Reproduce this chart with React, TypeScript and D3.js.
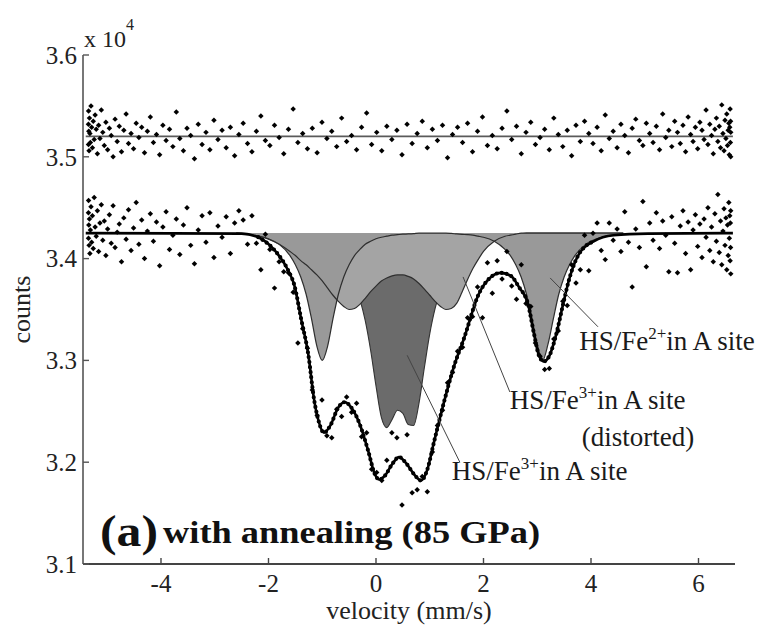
import React from 'react';
import * as d3 from 'd3';

// ---- data ----
const VELOCITY = [
  -5.350, -5.349, -5.347, -5.343, -5.338, -5.331, -5.323, -5.314, -5.302, -5.290,
  -5.276, -5.260, -5.243, -5.225, -5.205, -5.183, -5.160, -5.136, -5.110, -5.083,
  -5.055, -5.025, -4.993, -4.960, -4.926, -4.891, -4.854, -4.815, -4.776, -4.735,
  -4.692, -4.649, -4.604, -4.557, -4.510, -4.461, -4.411, -4.359, -4.307, -4.253,
  -4.198, -4.141, -4.084, -4.025, -3.965, -3.905, -3.842, -3.779, -3.715, -3.650,
  -3.583, -3.516, -3.447, -3.378, -3.307, -3.236, -3.163, -3.090, -3.015, -2.940,
  -2.864, -2.787, -2.709, -2.630, -2.551, -2.471, -2.390, -2.308, -2.225, -2.142,
  -2.058, -1.974, -1.888, -1.802, -1.716, -1.629, -1.541, -1.453, -1.364, -1.275,
  -1.185, -1.095, -1.005, -0.914, -0.823, -0.731, -0.639, -0.546, -0.454, -0.361,
  -0.268, -0.174, -0.081, 0.013, 0.107, 0.201, 0.295, 0.389, 0.484, 0.578,
  0.672, 0.766, 0.861, 0.955, 1.049, 1.143, 1.237, 1.331, 1.424, 1.518,
  1.611, 1.704, 1.796, 1.889, 1.981, 2.073, 2.164, 2.255, 2.345, 2.435,
  2.525, 2.614, 2.703, 2.791, 2.879, 2.966, 3.052, 3.138, 3.224, 3.308,
  3.392, 3.475, 3.558, 3.640, 3.721, 3.801, 3.880, 3.959, 4.037, 4.114,
  4.190, 4.265, 4.340, 4.413, 4.486, 4.557, 4.628, 4.697, 4.766, 4.833,
  4.900, 4.965, 5.029, 5.092, 5.155, 5.215, 5.275, 5.334, 5.391, 5.448,
  5.503, 5.557, 5.609, 5.661, 5.711, 5.760, 5.807, 5.854, 5.899, 5.942,
  5.985, 6.026, 6.065, 6.104, 6.141, 6.176, 6.210, 6.243, 6.275, 6.305,
  6.333, 6.360, 6.386, 6.410, 6.433, 6.455, 6.475, 6.493, 6.510, 6.526,
  6.540, 6.552, 6.564, 6.573, 6.581, 6.588, 6.593, 6.597, 6.599, 6.600,
];

// counts (x 10^4), upper spectrum
const COUNTS_TOP = [
  3.532, 3.512, 3.545, 3.525, 3.506, 3.538, 3.523, 3.514, 3.550, 3.529,
  3.509, 3.535, 3.517, 3.541, 3.527, 3.503, 3.531, 3.518, 3.546, 3.524,
  3.511, 3.534, 3.507, 3.528, 3.521, 3.500, 3.537, 3.515, 3.530, 3.505,
  3.526, 3.542, 3.513, 3.523, 3.508, 3.533, 3.519, 3.529, 3.504, 3.525,
  3.539, 3.514, 3.522, 3.502, 3.531, 3.516, 3.527, 3.510, 3.544, 3.518,
  3.506, 3.528, 3.521, 3.498, 3.532, 3.512, 3.524, 3.507, 3.536, 3.517,
  3.526, 3.509, 3.529, 3.501, 3.522, 3.533, 3.513, 3.505, 3.525, 3.540,
  3.516, 3.511, 3.531, 3.519, 3.503, 3.527, 3.547, 3.514, 3.523, 3.508,
  3.528, 3.504, 3.534, 3.518, 3.525, 3.510, 3.538, 3.515, 3.521, 3.507,
  3.529, 3.543, 3.512, 3.524, 3.506, 3.530, 3.517, 3.526, 3.502, 3.532,
  3.513, 3.523, 3.535, 3.509, 3.527, 3.516, 3.531, 3.499, 3.522, 3.529,
  3.514, 3.533, 3.505, 3.525, 3.539, 3.511, 3.521, 3.508, 3.528, 3.545,
  3.517, 3.530, 3.503, 3.524, 3.534, 3.512, 3.519, 3.527, 3.507, 3.538,
  3.522, 3.510, 3.526, 3.501, 3.531, 3.515, 3.535, 3.523, 3.513, 3.529,
  3.506, 3.541, 3.518, 3.525, 3.509, 3.532, 3.521, 3.504, 3.528, 3.537,
  3.516, 3.511, 3.533, 3.523, 3.514, 3.530, 3.507, 3.542, 3.519, 3.526,
  3.510, 3.535, 3.524, 3.513, 3.531, 3.505, 3.539, 3.522, 3.515, 3.529,
  3.508, 3.534, 3.526, 3.517, 3.546, 3.512, 3.532, 3.521, 3.503, 3.527,
  3.538, 3.515, 3.530, 3.509, 3.551, 3.523, 3.506, 3.536, 3.518, 3.542,
  3.511, 3.526, 3.533, 3.502, 3.529, 3.547, 3.514, 3.535, 3.500, 3.524,
];

// counts (x 10^4), lower spectrum
const COUNTS_BOTTOM = [
  3.445, 3.420, 3.457, 3.433, 3.413, 3.439, 3.405, 3.428, 3.451, 3.416,
  3.442, 3.410, 3.460, 3.431, 3.422, 3.447, 3.407, 3.435, 3.453, 3.418,
  3.437, 3.403, 3.429, 3.443, 3.415, 3.452, 3.411, 3.426, 3.434, 3.397,
  3.440, 3.419, 3.448, 3.408, 3.430, 3.455, 3.414, 3.438, 3.400, 3.427,
  3.444, 3.417, 3.436, 3.393, 3.431, 3.446, 3.409, 3.423, 3.439, 3.404,
  3.433, 3.450, 3.413, 3.395, 3.428, 3.442, 3.416, 3.445, 3.401, 3.432,
  3.421, 3.441, 3.405, 3.435, 3.447, 3.438, 3.414, 3.442, 3.415, 3.389,
  3.424, 3.409, 3.371, 3.397, 3.387, 3.386, 3.367, 3.317, 3.331, 3.312,
  3.271, 3.246, 3.261, 3.226, 3.224, 3.252, 3.245, 3.264, 3.249, 3.258,
  3.225, 3.229, 3.193, 3.190, 3.182, 3.202, 3.229, 3.224, 3.158, 3.227,
  3.170, 3.173, 3.186, 3.171, 3.210, 3.236, 3.251, 3.278, 3.288, 3.309,
  3.313, 3.342, 3.343, 3.372, 3.342, 3.396, 3.366, 3.398, 3.380, 3.407,
  3.373, 3.360, 3.394, 3.356, 3.353, 3.317, 3.304, 3.291, 3.292, 3.321,
  3.329, 3.358, 3.354, 3.394, 3.376, 3.389, 3.423, 3.388, 3.425, 3.435,
  3.408, 3.399, 3.435, 3.418, 3.429, 3.407, 3.446, 3.416, 3.372, 3.429,
  3.411, 3.456, 3.392, 3.435, 3.418, 3.445, 3.410, 3.437, 3.423, 3.387,
  3.441, 3.415, 3.386, 3.432, 3.447, 3.405, 3.436, 3.389, 3.428, 3.443,
  3.412, 3.434, 3.401, 3.439, 3.421, 3.450, 3.408, 3.431, 3.397, 3.444,
  3.417, 3.463, 3.406, 3.437, 3.394, 3.427, 3.449, 3.413, 3.440, 3.389,
  3.433, 3.403, 3.455, 3.420, 3.442, 3.398, 3.435, 3.411, 3.447, 3.385,
];

const BASE_TOP = 3.52;
const BASE_BOTTOM = 3.425;

// total fit of the lower spectrum
const FIT_X = [
  -5.40, -2.50, -2.19, -1.90, -1.64, -1.52, -1.39, -1.26, -1.15, -1.06,
  -0.97, -0.84, -0.71, -0.58, -0.45, -0.30, -0.15, -0.02, 0.06, 0.17,
  0.30, 0.43, 0.56, 0.71, 0.84, 0.95, 1.08, 1.26, 1.45, 1.64,
  1.91, 2.14, 2.32, 2.51, 2.66, 2.83, 2.94, 3.03, 3.12, 3.23,
  3.35, 3.48, 3.59, 3.75, 4.05, 4.42, 5.06, 6.64,
];
const FIT_Y = [
  3.425, 3.4245, 3.421, 3.409, 3.389, 3.374, 3.340, 3.306, 3.261, 3.239,
  3.229, 3.237, 3.253, 3.259, 3.253, 3.237, 3.212, 3.188, 3.183, 3.187,
  3.198, 3.205, 3.199, 3.188, 3.182, 3.192, 3.220, 3.258, 3.294, 3.322,
  3.365, 3.382, 3.386, 3.383, 3.372, 3.355, 3.326, 3.305, 3.299, 3.305,
  3.325, 3.355, 3.379, 3.402, 3.417, 3.423, 3.4245, 3.425,
];

// sub-spectra
const COMP_X = [
  -2.6, -2.3, -2.0, -1.8, -1.6, -1.5, -1.4, -1.3, -1.2, -1.1,
  -1.0, -0.9, -0.8, -0.7, -0.6, -0.5, -0.4, -0.3, -0.2, -0.1,
  0.0, 0.1, 0.2, 0.3, 0.4, 0.5, 0.6, 0.7, 0.8, 0.9,
  1.0, 1.1, 1.2, 1.3, 1.4, 1.5, 1.6, 1.7, 1.8, 1.9,
  2.0, 2.2, 2.4, 2.5, 2.6, 2.7, 2.8, 2.9, 3.0, 3.1,
  3.2, 3.3, 3.4, 3.5, 3.6, 3.7, 3.9, 4.2, 4.6,
];
// HS/Fe2+ in A site
const FE2_A = [
  3.4242, 3.423, 3.4195, 3.414, 3.403, 3.394, 3.382, 3.365, 3.341, 3.314,
  3.300, 3.314, 3.341, 3.365, 3.382, 3.394, 3.403, 3.409, 3.414, 3.417,
  3.4195, 3.421, 3.422, 3.423, 3.4235, 3.424, 3.4242, 3.4245, 3.425, 3.425,
  3.425, 3.425, 3.425, 3.425, 3.4247, 3.4242, 3.4238, 3.4235, 3.423, 3.422,
  3.421, 3.417, 3.409, 3.403, 3.394, 3.382, 3.365, 3.341, 3.316, 3.300,
  3.316, 3.341, 3.365, 3.382, 3.394, 3.403, 3.414, 3.421, 3.424,
];
// HS/Fe3+ in A site (distorted)
const FE3_DIST = [
  3.425, 3.423, 3.419, 3.414, 3.407, 3.403, 3.398, 3.394, 3.389, 3.384,
  3.378, 3.371, 3.364, 3.358, 3.353, 3.350, 3.351, 3.355, 3.361, 3.3675,
  3.373, 3.378, 3.381, 3.383, 3.384, 3.384, 3.3825, 3.380, 3.3755, 3.370,
  3.364, 3.358, 3.353, 3.350, 3.351, 3.356, 3.367, 3.379, 3.390, 3.399,
  3.407, 3.417, 3.422, 3.423, 3.424, 3.425, 3.425, 3.425, 3.425, 3.425,
  3.425, 3.425, 3.425, 3.425, 3.425, 3.425, 3.425, 3.425, 3.425,
];
// HS/Fe3+ in A site
const FE3_A = [
  3.425, 3.4245, 3.4235, 3.4225, 3.421, 3.420, 3.419, 3.4175, 3.416, 3.414,
  3.4115, 3.4085, 3.405, 3.400, 3.394, 3.386, 3.375, 3.360, 3.339, 3.310,
  3.275, 3.244, 3.234, 3.242, 3.251, 3.248, 3.237, 3.236, 3.258, 3.293,
  3.326, 3.351, 3.368, 3.381, 3.390, 3.396, 3.403, 3.407, 3.4105, 3.4135,
  3.416, 3.420, 3.4225, 3.423, 3.424, 3.4245, 3.425, 3.425, 3.425, 3.425,
  3.425, 3.425, 3.425, 3.425, 3.425, 3.425, 3.425, 3.425, 3.425,
];

const X_TICKS = [-4, -2, 0, 2, 4, 6];
const Y_TICKS = [3.1, 3.2, 3.3, 3.4, 3.5, 3.6];
const Y_TICK_LABELS = ['3.1', '3.2', '3.3', '3.4', '3.5', '3.6'];

// annotation text
const LABEL_HEAD = ['HS/Fe', 'HS/Fe', '', 'HS/Fe'];
const LABEL_SUP = ['2+', '3+', '', '3+'];
const LABEL_TAIL = ['in A site', 'in A site', '(distorted)', 'in A site'];
const LABEL_VX = [3.78, 2.49, 5.92, 1.41];
const LABEL_VY = [3.310, 3.252, 3.216, 3.183];
const LABEL_ANCHOR = ['start', 'start', 'end', 'start'];
// leader lines [x1, y1, x2, y2] in data units
const LEADERS = [
  [3.24, 3.381, 4.13, 3.333],
  [1.62, 3.382, 2.49, 3.269],
  [0.58, 3.305, 1.56, 3.200],
];

const FONT = "'Liberation Serif', 'Times New Roman', 'DejaVu Serif', serif";

export default function App() {
  const W = 766;
  const H = 632;
  const x = d3.scaleLinear().domain([-5.451, 6.679]).range([83, 735]);
  const y = d3.scaleLinear().domain([3.1, 3.6]).range([564, 55]);
  const baseY = y(BASE_BOTTOM);

  const idx = COMP_X.map((_, i) => i);
  const areaOf = (vals: number[]) =>
    d3.area<number>()
      .x((i) => x(COMP_X[i]))
      .y0(baseY)
      .y1((i) => y(vals[i]))
      .curve(d3.curveMonotoneX)(idx) || '';
  const lineOf = (vals: number[]) =>
    d3.line<number>()
      .x((i) => x(COMP_X[i]))
      .y((i) => y(vals[i]))
      .curve(d3.curveMonotoneX)(idx) || '';
  const fitLine = d3.line<number>()
    .x((i) => x(FIT_X[i]))
    .y((i) => y(FIT_Y[i]))
    .curve(d3.curveMonotoneX);
  const fitPath = fitLine(FIT_X.map((_, i) => i)) || '';
  const dipIdx = FIT_X.map((_, i) => i).filter((i) => FIT_X[i] > -2.3 && FIT_X[i] < 4.2);
  const fitDipPath = fitLine(dipIdx) || '';
  const marker = d3.symbol(d3.symbolSquare, 15)() || '';

  const [x0, x1] = x.range();
  const [yb, yt] = y.range();
  const txt = { fontFamily: FONT } as React.CSSProperties;

  return (
    <svg
      width={W}
      height={H}
      viewBox={`0 0 ${W} ${H}`}
      style={{ position: 'absolute', left: 0, top: 0, background: '#fff' }}
    >
      <rect x={0} y={0} width={W} height={H} fill="#fff" />

      {/* sub-spectra fills */}
      <path d={areaOf(FE3_A)} fill="#6b6b6b" />
      <path d={lineOf(FE3_A)} fill="none" stroke="#333" strokeWidth={1.1} />
      <path d={areaOf(FE3_DIST)} fill="#a4a4a4" />
      <path d={areaOf(FE2_A)} fill="#999999" />
      <path d={lineOf(FE3_DIST)} fill="none" stroke="#2e2e2e" strokeWidth={1.2} />
      <path d={lineOf(FE2_A)} fill="none" stroke="#2e2e2e" strokeWidth={1.2} />

      {/* upper baseline */}
      <line
        x1={x(-5.40)}
        x2={x(6.64)}
        y1={y(BASE_TOP)}
        y2={y(BASE_TOP)}
        stroke="#5a5a5a"
        strokeWidth={1.8}
      />
      {/* total fit */}
      <path d={fitPath} fill="none" stroke="#000" strokeWidth={2.6} strokeLinejoin="round" />
      <path
        d={fitDipPath}
        fill="none"
        stroke="#000"
        strokeWidth={4.2}
        strokeLinecap="round"
        strokeDasharray="0 5"
      />

      {/* data points */}
      {VELOCITY.map((v, i) => (
        <path
          key={'t' + i}
          d={marker}
          transform={`translate(${x(v)},${y(COUNTS_TOP[i])}) rotate(45)`}
          fill="#000"
        />
      ))}
      {VELOCITY.map((v, i) => (
        <path
          key={'b' + i}
          d={marker}
          transform={`translate(${x(v)},${y(COUNTS_BOTTOM[i])}) rotate(45)`}
          fill="#000"
        />
      ))}

      {/* leader lines */}
      {LEADERS.map((l, i) => (
        <line
          key={'l' + i}
          x1={x(l[0])}
          y1={y(l[1])}
          x2={x(l[2])}
          y2={y(l[3])}
          stroke="#444"
          strokeWidth={1}
        />
      ))}

      {/* annotation labels */}
      {LABEL_TAIL.map((tail, i) => (
        <text
          key={'a' + i}
          x={x(LABEL_VX[i])}
          y={y(LABEL_VY[i])}
          fontSize={27}
          fill="#1a1a1a"
          style={txt}
          textAnchor={LABEL_ANCHOR[i] as any}
        >
          {LABEL_HEAD[i]}
          {LABEL_SUP[i] ? (
            <tspan dy={-11} fontSize={17}>
              {LABEL_SUP[i]}
            </tspan>
          ) : null}
          <tspan dy={LABEL_SUP[i] ? 11 : 0}>{tail}</tspan>
        </text>
      ))}

      {/* panel title */}
      <text x={100} y={546} fontSize={44} fontWeight="bold" fill="#111" style={txt} textLength={58} lengthAdjust="spacingAndGlyphs">
        (a)
      </text>
      <text x={163} y={543} fontSize={31} fontWeight="bold" fill="#111" style={txt} textLength={377} lengthAdjust="spacingAndGlyphs">
        with annealing  (85 GPa)
      </text>

      {/* axes */}
      <line x1={x0} x2={x0} y1={yb} y2={yt} stroke="#555" strokeWidth={1.6} />
      <line x1={x0} x2={x1} y1={yb} y2={yb} stroke="#444" strokeWidth={1.8} />
      {Y_TICKS.map((t, i) => (
        <g key={'yt' + i}>
          <line x1={x0} x2={x0 + 6} y1={y(t)} y2={y(t)} stroke="#555" strokeWidth={1.4} />
          <text x={x0 - 6} y={y(t)} dy="0.35em" fontSize={25} textAnchor="end" fill="#222" style={txt}>
            {Y_TICK_LABELS[i]}
          </text>
        </g>
      ))}
      {X_TICKS.map((t, i) => (
        <g key={'xt' + i}>
          <line x1={x(t)} x2={x(t)} y1={yb} y2={yb - 6} stroke="#444" strokeWidth={1.4} />
          <text x={x(t)} y={yb + 28} fontSize={25} textAnchor="middle" fill="#222" style={txt}>
            {t}
          </text>
        </g>
      ))}
      <text x={84} y={47} fontSize={24} fill="#222" style={txt}>
        x 10
        <tspan dy={-17} fontSize={16}>
          4
        </tspan>
      </text>
      <text x={(x0 + x1) / 2} y={619} fontSize={26} textAnchor="middle" fill="#222" style={txt}>
        velocity (mm/s)
      </text>
      <text transform={`translate(30,${(yb + yt) / 2}) rotate(-90)`} fontSize={26} textAnchor="middle" fill="#222" style={txt}>
        counts
      </text>
    </svg>
  );
}
